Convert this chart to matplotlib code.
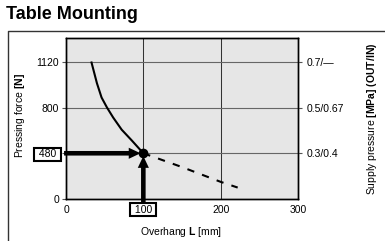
import numpy as np
import matplotlib
matplotlib.use("Agg")
import matplotlib.pyplot as plt
from matplotlib.lines import Line2D

plt.rcParams["font.family"] = ["Liberation Sans", "DejaVu Sans"]
plt.rcParams["mathtext.fontset"] = "custom"
plt.rcParams["mathtext.rm"] = "Liberation Sans"
plt.rcParams["mathtext.bf"] = "Liberation Sans:bold"

# solid part of the curve
overhang_solid = [33, 40, 46, 53, 61, 72, 85, 100]
force_solid = [1115, 970, 870, 800, 730, 645, 570, 480]
# dashed continuation
overhang_dash = [100, 150, 200, 222]
force_dash = [480, 335, 180, 120]

x_ticks = [0, 100, 200, 300]
y_ticks = [0, 480, 800, 1120]
right_ticks = [480, 800, 1120]
right_labels = ["0.3/0.4", "0.5/0.67", "0.7/\u2014"]
point_x, point_y = 100, 480


# force axis is not linear: 0-480 takes the same height as one 320 N step
def fwd(v):
    v = np.asarray(v, dtype=float)
    return np.where(v <= 480, v / 480, 1 + (v - 480) / 320)


def inv(p):
    p = np.asarray(p, dtype=float)
    return np.where(p <= 1, p * 480, 480 + (p - 1) * 320)


fig = plt.figure(figsize=(3.85, 2.41), dpi=100)
ax = fig.add_axes([66 / 385, 1 - 199 / 241, 232 / 385, 161.5 / 241])
ax.set_facecolor("#e6e6e6")
ax.set_yscale("function", functions=(fwd, inv))
ax.set_xlim(0, 300)
ax.set_ylim(0, 1290)

for v in [100, 200]:
    ax.axvline(v, color="#333333", lw=0.75, zorder=1)
for v in right_ticks:
    ax.axhline(v, color="#666666", lw=0.8, zorder=1)

ax.plot(overhang_solid, force_solid, color="black", lw=1.5, zorder=3)
ax.plot(overhang_dash, force_dash, color="black", lw=1.5,
        dashes=(3.5, 4), zorder=3)
ax.plot([point_x], [point_y], "o", color="black", ms=6, zorder=5)

arrow_style = "simple,head_length=0.85,head_width=0.8,tail_width=0.33"
ax.annotate("", xy=(point_x, point_y), xytext=(-2.5, point_y),
            arrowprops=dict(arrowstyle=arrow_style, color="black", lw=0,
                            mutation_scale=10, shrinkA=0, shrinkB=2),
            annotation_clip=False, zorder=4)
ax.annotate("", xy=(point_x, point_y), xytext=(point_x, -52),
            arrowprops=dict(arrowstyle=arrow_style, color="black", lw=0,
                            mutation_scale=10, shrinkA=0, shrinkB=2),
            annotation_clip=False, zorder=4)

for s in ax.spines.values():
    s.set_linewidth(1.0)

ax.set_xticks(x_ticks, [str(t) if t != 100 else " 100 " for t in x_ticks])
ax.set_yticks(y_ticks, [str(t) if t != 480 else " 480 " for t in y_ticks])
ax.minorticks_off()
ax.tick_params(axis="x", length=0, pad=4, labelsize=7.5)
ax.tick_params(axis="y", length=3, width=0.8, pad=2, labelsize=7.5,
               color="#555555")
box = dict(boxstyle="square,pad=0.15", facecolor="white",
           edgecolor="black", lw=1.5)
ax.get_xticklabels()[1].set_bbox(box)
ax.get_yticklabels()[1].set_bbox(box)

ax2 = ax.twinx()
ax2.set_yscale("function", functions=(fwd, inv))
ax2.set_ylim(ax.get_ylim())
ax2.set_yticks(right_ticks, right_labels)
ax2.minorticks_off()
ax2.tick_params(axis="y", length=3, width=0.8, pad=3, labelsize=7.5,
                color="#555555")
for s in ax2.spines.values():
    s.set_linewidth(1.0)

fig.text(6 / 385, 1 - 14.5 / 241, "Table Mounting", fontsize=13,
         fontweight="bold", va="center", ha="left")
fig.text(20 / 385, 1 - 115 / 241, r"Pressing force $\mathbf{[N]}$",
         rotation=90, fontsize=7.5, ha="center", va="center")
fig.text(372 / 385, 1 - 119 / 241,
         r"Supply pressure $\mathbf{[MPa]}$ $\mathbf{(OUT/IN)}$",
         rotation=90, fontsize=7.5, ha="center", va="center")
fig.text(181 / 385, 1 - 232 / 241, r"Overhang $\mathbf{L}$ [mm]",
         fontsize=7.5, ha="center", va="center")

# outer frame (top and left edges only are visible)
fig.add_artist(Line2D([8 / 385, 8 / 385, 1], [0, 1 - 30.5 / 241, 1 - 30.5 / 241],
                      transform=fig.transFigure, color="#333333", lw=1.0))

fig.savefig("out.png", dpi=100)
